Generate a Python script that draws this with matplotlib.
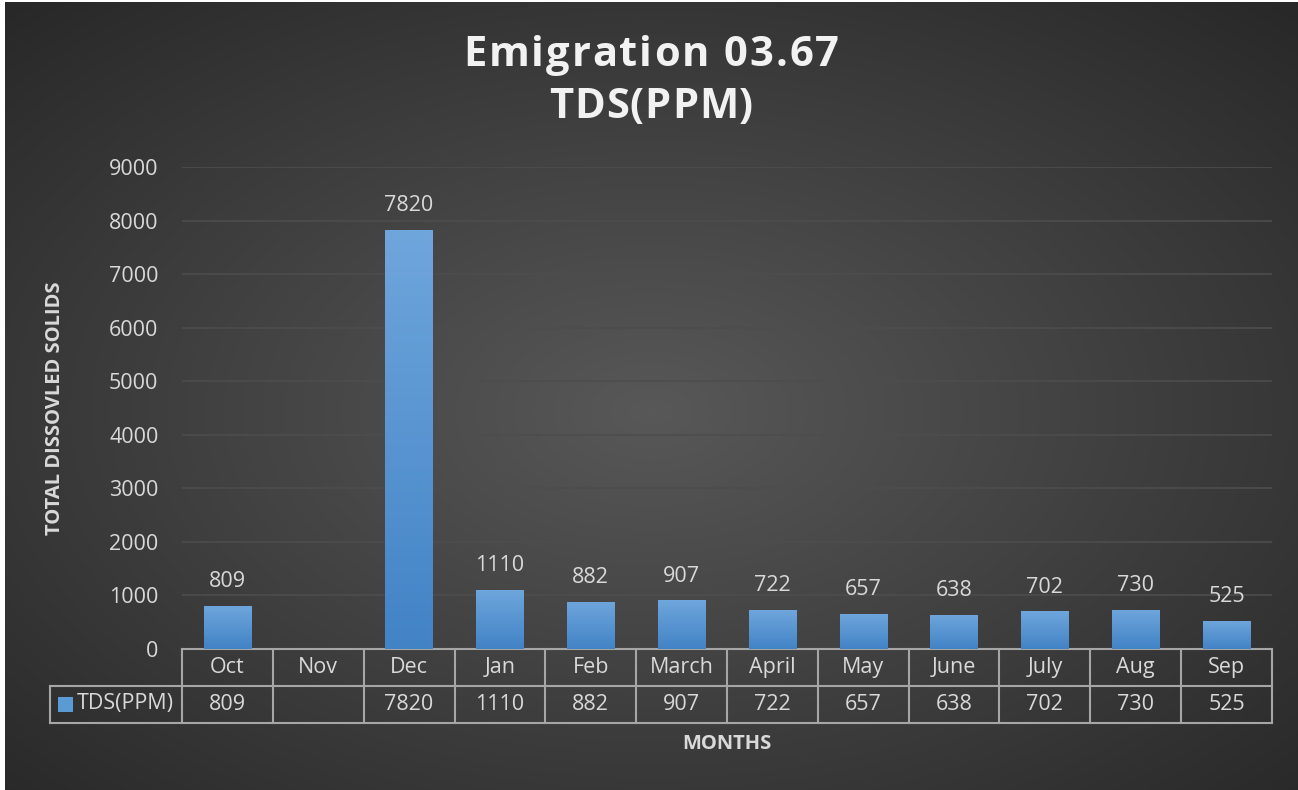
import numpy as np
import matplotlib.pyplot as plt
from matplotlib.colors import LinearSegmentedColormap
from matplotlib.patches import Rectangle

# data
months = ['Oct', 'Nov', 'Dec', 'Jan', 'Feb', 'March', 'April', 'May', 'June', 'July', 'Aug', 'Sep']
tds = [809, np.nan, 7820, 1110, 882, 907, 722, 657, 638, 702, 730, 525]
series_name = 'TDS(PPM)'
y_ticks = [0, 1000, 2000, 3000, 4000, 5000, 6000, 7000, 8000, 9000]

W, H = 1298, 790
txt = '#d9d9d9'
linec = '#a6a6a6'
fs = 15.5
plt.rcParams['font.family'] = ['Open Sans', 'DejaVu Sans']

fig = plt.figure(figsize=(W / 100, H / 100), dpi=100)
fig.patch.set_facecolor('white')

# radial dark background
bg = fig.add_axes([5 / W, 0, 1 - 5 / W, 1 - 2 / H])
bg.set_axis_off()
yy, xx = np.mgrid[0:1:400j, 0:1:650j]
r = np.sqrt(((xx - 0.5) / 0.75) ** 2 + ((yy - 0.52) / 0.75) ** 2)
bgcm = LinearSegmentedColormap.from_list('bg', ['#585858', '#262626'])
bg.imshow(np.clip(r, 0, 1), cmap=bgcm, aspect='auto', extent=[0, 1, 0, 1], vmin=0, vmax=1)
bg.set_xlim(0, 1)
bg.set_ylim(0, 1)

# plot area
x0, x1, ytop, ybot = 182, 1272, 167, 649
ax = fig.add_axes([x0 / W, 1 - ybot / H, (x1 - x0) / W, (ybot - ytop) / H])
ax.patch.set_alpha(0)
x = np.arange(len(months))
ax.set_yticks(y_ticks)
ax.tick_params(axis='y', length=0, labelsize=fs, labelcolor=txt, pad=17)
ax.tick_params(axis='x', length=0, labelbottom=False)
ax.grid(axis='y', color='#4d4d4d', linewidth=1.2)
ax.set_axisbelow(True)
for s in ax.spines.values():
    s.set_visible(False)

# bars with vertical gradient
barcm = LinearSegmentedColormap.from_list('bar', ['#4283c6', '#6fa6dc'])
grad = np.linspace(0, 1, 256).reshape(-1, 1)
vals = np.nan_to_num(np.array(tds, dtype=float))
bars = ax.bar(x, vals, width=0.52, color='#5b9bd5', zorder=2)
for b, v in zip(bars, vals):
    if v <= 0:
        continue
    im = ax.imshow(grad, cmap=barcm, aspect='auto', origin='lower',
                   extent=[b.get_x(), b.get_x() + b.get_width(), 0, v], zorder=3)
    im.set_clip_path(b)
ax.set_xlim(-0.5, len(months) - 0.5)
ax.set_ylim(0, 9000)

for xi, v in zip(x, tds):
    if np.isnan(v):
        continue
    ax.annotate(f'{int(v)}', (xi, v), xytext=(0, 10), textcoords='offset points',
                ha='center', va='bottom', fontsize=fs, color=txt)

# data table under the axis
row_h = 37 / (ybot - ytop)
tr = ax.get_xaxis_transform()
lw = 1.5
left_col = (50 - x0) / (x1 - x0) * len(months) - 0.5
ax.plot([-0.5, len(months) - 0.5], [0, 0], transform=tr, color=linec, lw=lw, clip_on=False)
ax.plot([left_col, len(months) - 0.5], [-row_h, -row_h], transform=tr, color=linec, lw=lw, clip_on=False)
ax.plot([left_col, len(months) - 0.5], [-2 * row_h, -2 * row_h], transform=tr, color=linec, lw=lw, clip_on=False)
for xb in np.arange(len(months) + 1) - 0.5:
    ax.plot([xb, xb], [0, -2 * row_h], transform=tr, color=linec, lw=lw, clip_on=False)
ax.plot([left_col, left_col], [-row_h, -2 * row_h], transform=tr, color=linec, lw=lw, clip_on=False)

for xi, m, v in zip(x, months, tds):
    ax.text(xi, -0.5 * row_h, m, transform=tr, ha='center', va='center', fontsize=fs, color=txt)
    if not np.isnan(v):
        ax.text(xi, -1.5 * row_h, f'{int(v)}', transform=tr, ha='center', va='center',
                fontsize=fs, color=txt)

# legend key in table
fig.add_artist(Rectangle((58 / W, 1 - 712 / H), 15 / W, 15 / H, transform=fig.transFigure,
                         facecolor='#5b9bd5', edgecolor='none'))
fig.text(77 / W, 1 - 704 / H, series_name, color=txt, fontsize=fs, ha='left', va='center')


def spaced_text(s, cx, cy, size, extra):
    # letter-spaced bold text, centred at pixel (cx, cy)
    renderer = fig.canvas.get_renderer()
    def width(t):
        if not t:
            return 0
        tmp = fig.text(0, 0, t, fontsize=size, fontweight='bold')
        w = tmp.get_window_extent(renderer).width
        tmp.remove()
        return w
    total = width(s) + extra * (len(s) - 1)
    start = cx - total / 2
    for i, ch in enumerate(s):
        px = start + width(s[:i]) + extra * i
        fig.text(px / W, 1 - cy / H, ch, color='#f2f2f2', fontsize=size,
                 fontweight='bold', ha='left', va='center')


# titles and axis labels
spaced_text('Emigration 03.67', 651, 55, 30, 2.0)
spaced_text('TDS(PPM)', 651, 107, 30, 1.0)
fig.text(727 / W, 1 - 744 / H, 'MONTHS', color=txt, fontsize=14.5, fontweight='bold',
         ha='center', va='center')
fig.text(55 / W, 1 - 408 / H, 'TOTAL DISSOVLED SOLIDS', color=txt, fontsize=14.5,
         fontweight='bold', ha='center', va='center', rotation=90)

fig.savefig('out.png', dpi=100)
